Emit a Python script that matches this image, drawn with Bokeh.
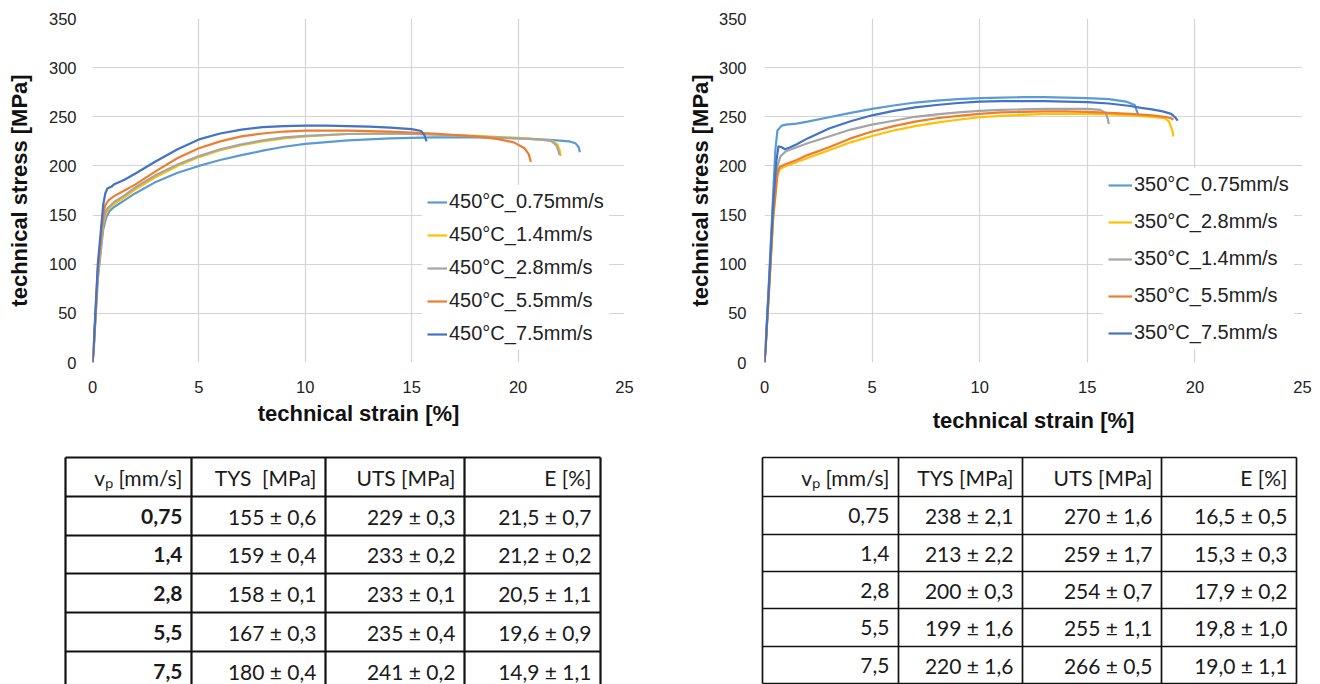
from bokeh.plotting import figure
from bokeh.models import Range1d, Legend, LegendItem, FixedTicker, ColumnDataSource
from bokeh.layouts import column, row
from bokeh.embed import file_html
from bokeh.resources import INLINE
from bokeh.core.properties import value

# ---------------- curve data (technical strain [%], technical stress [MPa]) ----------------
# 450 °C
s450_075_x = [0, 0.05, 0.25, 0.5, 0.65, 0.8, 1.0, 1.5, 2.0, 3.0, 4.0, 5.0, 6.0, 7.0, 8.0, 9.0, 10.0, 12.0, 14.0, 16.0, 18.0, 20.0, 21.5, 22.4, 22.7, 22.85, 22.9]
s450_075_y = [0, 10, 85, 135, 148, 154, 158, 165, 172, 184, 193, 200, 206, 211, 215.5, 219.5, 222.5, 226, 228, 229, 229, 228, 226.5, 225, 223, 219, 214]
s450_14_x = [0, 0.05, 0.25, 0.5, 0.6, 0.75, 1.0, 1.5, 2.0, 3.0, 4.0, 5.0, 6.0, 7.0, 8.0, 9.0, 10.0, 12.0, 14.0, 16.0, 18.0, 20.0, 21.0, 21.6, 21.85, 21.95, 22.0]
s450_14_y = [0, 12, 90, 140, 150, 156, 161, 168, 176, 189, 200, 209, 216, 221, 225, 228, 230, 232.5, 233, 232, 230.5, 228.5, 227, 225.5, 222, 216, 210]
s450_28_x = [0, 0.05, 0.25, 0.5, 0.6, 0.75, 1.0, 1.5, 2.0, 3.0, 4.0, 5.0, 6.0, 7.0, 8.0, 9.0, 10.0, 12.0, 14.0, 16.0, 18.0, 20.0, 21.0, 21.55, 21.8, 21.9, 21.95]
s450_28_y = [0, 12, 92, 143, 153, 158, 163, 170, 178, 191, 201.5, 210, 217, 222, 226, 229, 230.5, 232.5, 233, 232, 230, 228, 227, 225.5, 221, 215, 211]
s450_55_x = [0, 0.05, 0.25, 0.5, 0.6, 0.75, 1.0, 1.5, 2.0, 3.0, 4.0, 5.0, 6.0, 7.0, 8.0, 9.0, 10.0, 12.0, 14.0, 16.0, 18.0, 19.0, 19.8, 20.3, 20.5, 20.6]
s450_55_y = [0, 12, 95, 150, 160, 165, 169, 175, 181, 195, 208, 218, 225, 230, 233, 235, 236, 236, 235, 233, 230, 227.5, 224, 218, 212, 204]
s450_75_x = [0, 0.05, 0.25, 0.5, 0.6, 0.7, 0.9, 1.0, 1.5, 2.0, 3.0, 4.0, 5.0, 6.0, 7.0, 8.0, 9.0, 10.0, 11.0, 12.0, 13.0, 14.0, 15.0, 15.45, 15.6, 15.7]
s450_75_y = [0, 14, 100, 160, 172, 177, 179, 181, 186, 192, 205, 217, 227, 233, 237, 239.5, 240.5, 241, 241, 240.5, 240, 239, 237.5, 235.5, 231, 225]

# 350 °C
s350_075_x = [0, 0.05, 0.2, 0.4, 0.5, 0.6, 0.8, 1.0, 1.5, 2.0, 3.0, 4.0, 5.0, 6.0, 7.0, 8.0, 9.0, 10.0, 11.0, 12.0, 13.0, 14.0, 15.0, 16.0, 16.8, 17.2, 17.3, 17.4]
s350_075_y = [0, 15, 80, 170, 215, 236, 241, 242, 243, 245, 249.5, 254, 258, 261.5, 264.5, 266.5, 268, 269, 269.5, 270, 270, 269.5, 269, 268, 265.5, 262, 256, 250]
s350_28_x = [0, 0.05, 0.2, 0.4, 0.6, 0.7, 1.0, 1.5, 2.0, 3.0, 4.0, 5.0, 6.0, 7.0, 8.0, 9.0, 10.0, 11.0, 12.0, 13.0, 14.0, 15.0, 16.0, 17.0, 18.0, 18.6, 18.8, 18.95, 19.0]
s350_28_y = [0, 14, 68, 145, 190, 197, 200, 204, 208, 216, 224, 230.5, 236, 240.5, 244, 247, 249.5, 251, 252, 253, 253, 253, 252.5, 251.5, 250, 248.5, 245, 236, 230]
s350_14_x = [0, 0.05, 0.2, 0.4, 0.6, 0.75, 1.0, 1.5, 2.0, 3.0, 4.0, 5.0, 6.0, 7.0, 8.0, 9.0, 10.0, 11.0, 12.0, 13.0, 14.0, 15.0, 15.6, 15.85, 15.95, 16.0]
s350_14_y = [0, 15, 72, 150, 200, 210, 215, 219, 223, 230, 237, 242, 246, 250, 252.5, 254.5, 256, 257, 257.5, 258, 258, 258, 257, 254, 248, 242.5]
s350_55_x = [0, 0.05, 0.2, 0.4, 0.6, 0.7, 1.0, 1.5, 2.0, 3.0, 4.0, 5.0, 6.0, 7.0, 8.0, 9.0, 10.0, 11.0, 12.0, 13.0, 14.0, 15.0, 16.0, 17.0, 18.0, 18.6, 18.9, 19.0]
s350_55_y = [0, 14, 70, 148, 192, 199, 202, 206, 211, 219, 228, 235, 240.5, 245, 248.5, 251, 253, 254.5, 255, 255.5, 255.5, 255, 254, 253, 251.5, 250, 248.5, 247]
s350_75_x = [0, 0.05, 0.2, 0.4, 0.55, 0.65, 0.8, 0.95, 1.2, 1.5, 2.0, 3.0, 4.0, 5.0, 6.0, 7.0, 8.0, 9.0, 10.0, 11.0, 12.0, 13.0, 14.0, 15.0, 16.0, 17.0, 17.5, 18.0, 18.5, 18.9, 19.1, 19.2]
s350_75_y = [0, 15, 75, 160, 205, 220, 219, 217, 219, 222, 228, 238, 245.5, 251.5, 256, 259.5, 262, 264, 265.5, 266, 266, 266, 265.5, 265, 263.5, 261, 259, 257.5, 255.5, 253, 249, 246]

labels_450 = ["450°C_0.75mm/s", "450°C_1.4mm/s", "450°C_2.8mm/s", "450°C_5.5mm/s", "450°C_7.5mm/s"]
labels_350 = ["350°C_0.75mm/s", "350°C_2.8mm/s", "350°C_1.4mm/s", "350°C_5.5mm/s", "350°C_7.5mm/s"]
colors = ["#5B9BD5", "#FFC000", "#A5A5A5", "#ED7D31", "#4472C4"]

x_ticks = [0, 5, 10, 15, 20, 25]
y_ticks = [0, 50, 100, 150, 200, 250, 300, 350]

# ---------------- table data ----------------
speeds = ["0,75", "1,4", "2,8", "5,5", "7,5"]
header_450 = ["vₚ [mm/s]", "TYS\u00a0 [MPa]", "UTS [MPa]", "E [%]"]
header_350 = ["vₚ [mm/s]", "TYS [MPa]", "UTS [MPa]", "E [%]"]
tys_450 = [155, 159, 158, 167, 180]
tys_450_sd = [0.6, 0.4, 0.1, 0.3, 0.4]
uts_450 = [229, 233, 233, 235, 241]
uts_450_sd = [0.3, 0.2, 0.1, 0.4, 0.2]
el_450 = [21.5, 21.2, 20.5, 19.6, 14.9]
el_450_sd = [0.7, 0.2, 1.1, 0.9, 1.1]
tys_350 = [238, 213, 200, 199, 220]
tys_350_sd = [2.1, 2.2, 0.3, 1.6, 1.6]
uts_350 = [270, 259, 254, 255, 266]
uts_350_sd = [1.6, 1.7, 0.7, 1.1, 0.5]
el_350 = [16.5, 15.3, 17.9, 19.8, 19.0]
el_350_sd = [0.5, 0.3, 0.2, 1.0, 1.1]

FONT = "Liberation Sans"
TXT = "#222222"


def fmt_int(v, e):
    return f"{v} ± {e:.1f}".replace(".", ",")


def fmt_dec(v, e):
    return f"{v:.1f} ± {e:.1f}".replace(".", ",")


def make_chart(curves, labels, border_left, border_right, border_bottom,
               label_standoff_x, label_standoff_y, tick_standoff_y, leg_loc, leg_spacing, glyph_w):
    p = figure(width=660, height=440, x_range=Range1d(0, 25), y_range=Range1d(0, 350),
               output_backend="svg", toolbar_location=None,
               min_border_left=border_left, min_border_right=border_right,
               min_border_top=18, min_border_bottom=border_bottom)
    p.outline_line_color = None
    p.background_fill_color = "white"
    p.border_fill_color = "white"
    p.xaxis.ticker = FixedTicker(ticks=x_ticks)
    p.yaxis.ticker = FixedTicker(ticks=y_ticks)
    p.xgrid.ticker = FixedTicker(ticks=x_ticks)
    p.ygrid.ticker = FixedTicker(ticks=y_ticks)
    for g in (p.xgrid, p.ygrid):
        g.grid_line_color = "#d4d4d4"
        g.grid_line_width = 1.2
    for ax in (p.xaxis, p.yaxis):
        ax.axis_line_color = None
        ax.major_tick_line_color = None
        ax.minor_tick_line_color = None
        ax.major_label_text_font = FONT
        ax.major_label_text_font_size = "16.5px"
        ax.major_label_text_color = TXT
        ax.axis_label_text_font = FONT
        ax.axis_label_text_font_size = "22px"
        ax.axis_label_text_font_style = "bold"
        ax.axis_label_text_color = "#111111"
    p.xaxis.major_label_standoff = 12
    p.yaxis.major_label_standoff = tick_standoff_y
    p.xaxis.axis_label = "technical strain [%]"
    p.yaxis.axis_label = "technical stress [MPa]"
    p.xaxis.axis_label_standoff = label_standoff_x
    p.yaxis.axis_label_standoff = label_standoff_y

    items = []
    for (xs, ys), lab, col in zip(curves, labels, colors):
        src = ColumnDataSource(data=dict(x=xs, y=ys))
        r = p.line("x", "y", source=src, line_color=col, line_width=2.2)
        items.append(LegendItem(label=lab, renderers=[r]))
    leg = Legend(items=items, location=leg_loc)
    leg.glyph_width = glyph_w
    leg.glyph_height = 20
    leg.label_height = 20
    leg.label_standoff = 2
    leg.spacing = leg_spacing
    leg.padding = 5
    leg.margin = 0
    leg.border_line_alpha = 0
    leg.background_fill_color = "white"
    leg.background_fill_alpha = 1
    leg.label_text_font = FONT
    leg.label_text_font_size = "20px"
    leg.label_text_color = TXT
    p.add_layout(leg)
    return p


def make_table(header, rows, col_edges, row_edges, bold_first, lw):
    t = figure(width=660, height=244, x_range=Range1d(0, 660), y_range=Range1d(244, 0),
               output_backend="svg", toolbar_location=None,
               x_axis_type=None, y_axis_type=None,
               min_border_left=0, min_border_right=0, min_border_top=0, min_border_bottom=0)
    t.outline_line_color = None
    t.grid.visible = False
    top = row_edges[0]
    bot = row_edges[-1]
    hx0 = [col_edges[0]] * len(row_edges)
    hx1 = [col_edges[-1]] * len(row_edges)
    t.segment(x0=hx0, y0=row_edges, x1=hx1, y1=row_edges, line_color="#111111", line_width=lw)
    t.segment(x0=col_edges, y0=[top] * len(col_edges), x1=col_edges, y1=[bot] * len(col_edges),
              line_color="#111111", line_width=lw)
    all_rows = [header] + rows
    xs, ys, txt, styles = [], [], [], []
    for ri, r in enumerate(all_rows):
        yc = (row_edges[ri] + row_edges[ri + 1]) / 2
        for ci, cell in enumerate(r):
            xs.append(col_edges[ci + 1] - 9)
            ys.append(yc)
            txt.append(cell)
            styles.append("bold" if (bold_first and ri > 0 and ci == 0) else "normal")
    src = ColumnDataSource(data=dict(x=xs, y=ys, t=txt, s=styles))
    t.text(x="x", y="y", text="t", source=src, text_align="right", text_baseline="middle",
           text_font=value("Lato"), text_font_size="21px", text_color="#1a1a1a",
           text_font_style="s")
    return t


curves_450 = [(s450_075_x, s450_075_y), (s450_14_x, s450_14_y), (s450_28_x, s450_28_y),
              (s450_55_x, s450_55_y), (s450_75_x, s450_75_y)]
curves_350 = [(s350_075_x, s350_075_y), (s350_28_x, s350_28_y), (s350_14_x, s350_14_y),
              (s350_55_x, s350_55_y), (s350_75_x, s350_75_y)]

p1 = make_chart(curves_450, labels_450, 92, 36, 78, 5, 14, 10, (330, 12), 10, 20)
p2 = make_chart(curves_350, labels_350, 104, 18, 77, 12, 3, 12, (339, 13), 14, 24)

rows_450 = [[speeds[i], fmt_int(tys_450[i], tys_450_sd[i]), fmt_int(uts_450[i], uts_450_sd[i]),
             fmt_dec(el_450[i], el_450_sd[i])] for i in range(5)]
rows_350 = [[speeds[i], fmt_int(tys_350[i], tys_350_sd[i]), fmt_int(uts_350[i], uts_350_sd[i]),
             fmt_dec(el_350[i], el_350_sd[i])] for i in range(5)]

cols_left = [65, 191, 325, 464, 600]
rows_left = [17, 56, 95, 133, 172, 211, 250]
cols_right = [102, 238, 362, 501, 636]
rows_right = [17, 56, 94, 131, 168, 206, 243]

t1 = make_table(header_450, rows_450, cols_left, rows_left, True, 2.2)
t2 = make_table(header_350, rows_350, cols_right, rows_right, False, 1.7)

layout = column(row(p1, p2), row(t1, t2))
open("out.html", "w").write(file_html(layout, INLINE))
